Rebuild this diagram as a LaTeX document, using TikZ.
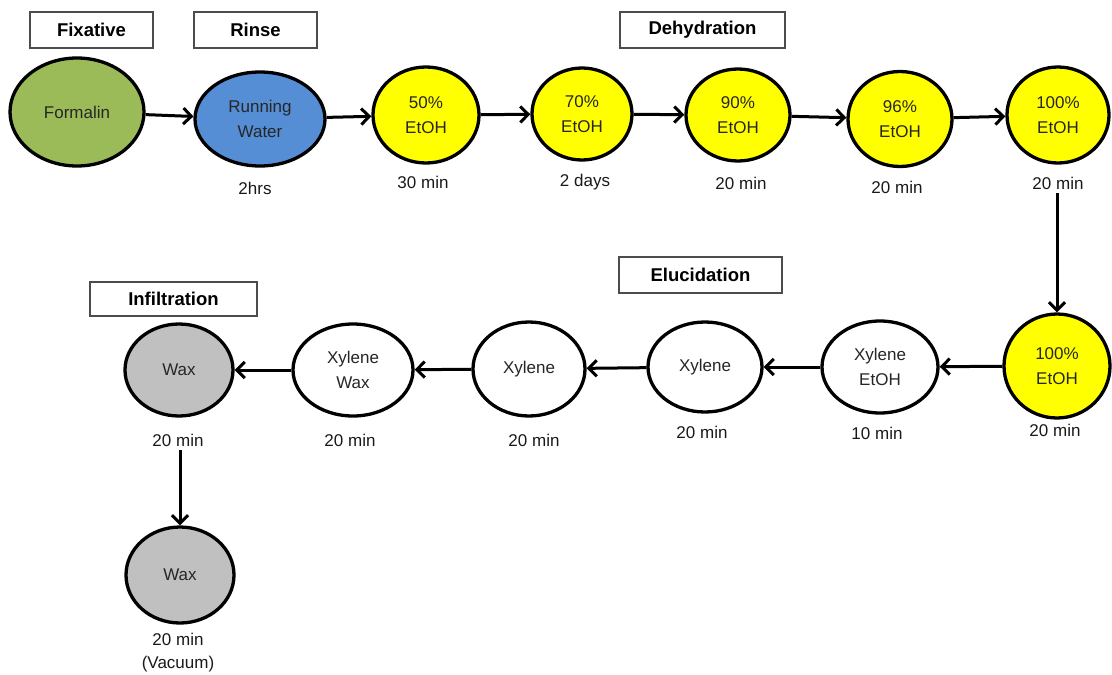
\documentclass[tikz,border=0pt]{standalone}
\usepackage{fontspec}
\setmainfont{Liberation Sans}
\usetikzlibrary{shapes.geometric,arrows.meta}
\definecolor{fgreen}{HTML}{9BBB59}
\definecolor{fblue}{HTML}{558ED5}
\definecolor{fyellow}{HTML}{FFFF00}
\definecolor{fgray}{HTML}{C0C0C0}
\begin{document}
\begin{tikzpicture}[x=1pt,y=-1pt,
  stage/.style={ellipse,draw=black,line width=3.3pt,inner sep=0pt,align=center,
    font=\fontsize{17}{25}\selectfont,text=black!85},
  lbl/.style={font=\fontsize{17}{23}\selectfont,align=center,text=black!90,inner sep=1pt},
  hdr/.style={draw=black!70,line width=1.6pt,font=\bfseries\fontsize{18.5}{22}\selectfont,
    minimum height=36pt,inner sep=0pt},
  flow/.style={-{Straight Barb[length=8pt,width=16pt]},line width=3pt}]
\useasboundingbox (0,0) rectangle (1112,675);
% headers
\node[hdr,minimum width=123pt] (hfix) at (91.5,30) {Fixative};
\node[hdr,minimum width=123pt] (hrin) at (255.5,30) {Rinse};
\node[hdr,minimum width=165pt] (hdeh) at (702.5,30) {Dehydration};
\node[hdr,minimum width=163pt] (helu) at (700.5,275) {Elucidation};
\node[hdr,minimum width=167pt,minimum height=34pt] (hinf) at (173.5,299) {Infiltration};
% top row
\node[stage,fill=fgreen,minimum width=134pt,minimum height=108pt] (form) at (77,112) {Formalin};
\node[stage,fill=fblue,minimum width=130pt,minimum height=94pt] (rw) at (260,119) {Running\\Water};
\node[stage,fill=fyellow,minimum width=106pt,minimum height=96pt] (e50) at (426,115) {50\%\\EtOH};
\node[stage,fill=fyellow,minimum width=100pt,minimum height=92pt] (e70) at (582,114) {70\%\\EtOH};
\node[stage,fill=fyellow,minimum width=104pt,minimum height=92pt] (e90) at (738,115) {90\%\\EtOH};
\node[stage,fill=fyellow,minimum width=104pt,minimum height=95pt] (e96) at (900,119) {96\%\\EtOH};
\node[stage,fill=fyellow,minimum width=102pt,minimum height=96pt] (e100) at (1058,115) {100\%\\EtOH};
% bottom row
\node[stage,fill=fyellow,minimum width=106pt,minimum height=104pt] (b100) at (1057,366) {100\%\\EtOH};
\node[stage,fill=white,minimum width=116pt,minimum height=92pt] (xe) at (880,367) {Xylene\\EtOH};
\node[stage,fill=white,minimum width=114pt,minimum height=90pt] (xa) at (705,367) {Xylene};
\node[stage,fill=white,minimum width=112pt,minimum height=94pt] (xb) at (529,369) {Xylene};
\node[stage,fill=white,minimum width=120pt,minimum height=92pt] (xw) at (353,370) {Xylene\\Wax};
\node[stage,fill=fgray,minimum width=108pt,minimum height=92pt] (wax) at (179,370) {Wax};
\node[stage,fill=fgray,minimum width=108pt,minimum height=96pt] (wax2) at (180,575) {Wax};
% time labels
\node[lbl] (lrw) at (255,188) {2hrs};
\node[lbl] (l50) at (423,182) {30 min};
\node[lbl] (l70) at (585,182) {2 days};
\node[lbl] (l90) at (741,183) {20 min};
\node[lbl] (l96) at (897,187) {20 min};
\node[lbl] (l100) at (1058,183) {20 min};
\node[lbl] (lb100) at (1055,430) {20 min};
\node[lbl] (lxe) at (877,433) {10 min};
\node[lbl] (lxa) at (702,432) {20 min};
\node[lbl] (lxb) at (534,440) {20 min};
\node[lbl] (lxw) at (350,440) {20 min};
\node[lbl] (lwax) at (178,440) {20 min};
\node[lbl] (lwax2) at (178,653) {20 min\\(Vacuum)};
% connectors
\draw[flow] (form) -- (rw);
\draw[flow] (rw) -- (e50);
\draw[flow] (e50) -- (e70);
\draw[flow] (e70) -- (e90);
\draw[flow] (e90) -- (e96);
\draw[flow] (e96) -- (e100);
\draw[flow,shorten <=3pt] (l100.south -| b100.north) -- (b100.north);
\draw[flow] (b100) -- (xe);
\draw[flow] (xe) -- (xa);
\draw[flow] (xa) -- (xb);
\draw[flow] (xb) -- (xw);
\draw[flow] (xw) -- (wax);
\draw[flow,shorten <=3pt] (lwax.south -| wax2.north) -- (wax2.north);
\end{tikzpicture}
\end{document}
